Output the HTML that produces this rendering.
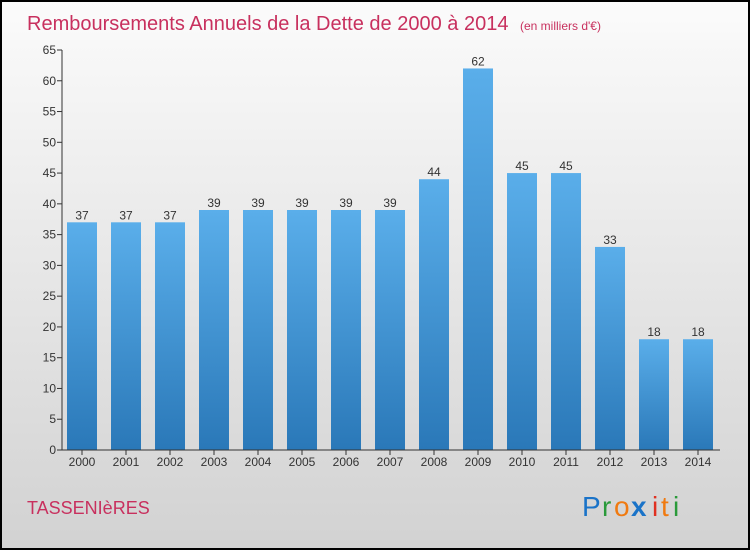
<!DOCTYPE html>
<html><head><meta charset="utf-8"><style>
html,body{margin:0;padding:0;}
svg{display:block;font-family:"Liberation Sans",sans-serif;}
</style></head><body>
<svg id="chart" width="750" height="550" viewBox="0 0 750 550">
<defs>
<linearGradient id="bg" x1="0" y1="0" x2="0" y2="1"><stop offset="0" stop-color="#fbfbfb"/><stop offset="1" stop-color="#d2d2d2"/></linearGradient>
<linearGradient id="bar" x1="0" y1="0" x2="0" y2="1"><stop offset="0" stop-color="#5aaeea"/><stop offset="1" stop-color="#2a78b8"/></linearGradient>
</defs>
<rect x="1" y="1" width="748" height="548" fill="url(#bg)" stroke="#000" stroke-width="2"/>
<text x="27" y="30" font-size="20" fill="#c8305e">Remboursements Annuels de la Dette de 2000 à 2014 <tspan font-size="12" dx="6">(en milliers d'€)</tspan></text>
<g id="yaxis"></g>
<g id="bars"></g>
<line x1="62" y1="450" x2="720" y2="450" stroke="#333"/>
<line x1="62" y1="50" x2="62" y2="450" stroke="#333"/>
<text x="27" y="514" font-size="18" fill="#c8305e">TASSENIèRES</text>
<g font-size="28" font-family="'Liberation Sans',sans-serif">
<text x="582" y="516" fill="#1a73c8">P</text><text x="602" y="516" fill="#2a9a3a">r</text><text x="614" y="516" fill="#f07a10">o</text><text x="631" y="516" fill="#1a73c8" font-weight="bold">x</text><text x="652" y="516" fill="#e03020">i</text><text x="661" y="516" fill="#f07a10">t</text><text x="673" y="516" fill="#2a9a3a">i</text>
</g>
</svg>
<script>
const years=["2000","2001","2002","2003","2004","2005","2006","2007","2008","2009","2010","2011","2012","2013","2014"];
const values=[37,37,37,39,39,39,39,39,44,62,45,45,33,18,18];
const yTicks=[0,5,10,15,20,25,30,35,40,45,50,55,60,65];
const NS="http://www.w3.org/2000/svg";
const y0=450,yMax=65,yTop=50;
function yScale(v){return y0-(v/yMax)*(y0-yTop);}
function xScale(i){return 67+i*44;}
const bw=30;
const ya=document.getElementById('yaxis');
yTicks.forEach(t=>{
  const l=document.createElementNS(NS,'line');
  l.setAttribute('x1',57);l.setAttribute('x2',62);l.setAttribute('y1',yScale(t));l.setAttribute('y2',yScale(t));l.setAttribute('stroke','#333');
  
  
  ya.appendChild(l);
  const tx=document.createElementNS(NS,'text');
  tx.setAttribute('x',56);tx.setAttribute('y',yScale(t)+4);tx.setAttribute('text-anchor','end');tx.setAttribute('font-size','12');tx.setAttribute('fill','#333');
  tx.textContent=t;
  
  
  ya.appendChild(tx);
});
const bg=document.getElementById('bars');
values.forEach((v,i)=>{
  const x=xScale(i);
  const r=document.createElementNS(NS,'rect');
  r.setAttribute('x',x);r.setAttribute('y',yScale(v));r.setAttribute('width',bw);r.setAttribute('height',y0-yScale(v));r.setAttribute('fill','url(#bar)');
  
  
  bg.appendChild(r);
  const t=document.createElementNS(NS,'text');
  t.setAttribute('x',x+bw/2);t.setAttribute('y',yScale(v)-3);t.setAttribute('text-anchor','middle');t.setAttribute('font-size','12');t.setAttribute('fill','#333');
  t.textContent=v;
  
  
  bg.appendChild(t);
  const tk=document.createElementNS(NS,'line');
  tk.setAttribute('x1',x+bw/2);tk.setAttribute('x2',x+bw/2);tk.setAttribute('y1',450);tk.setAttribute('y2',455);tk.setAttribute('stroke','#333');
  
  
  bg.appendChild(tk);
  const yl=document.createElementNS(NS,'text');
  yl.setAttribute('x',x+bw/2);yl.setAttribute('y',466);yl.setAttribute('text-anchor','middle');yl.setAttribute('font-size','12');yl.setAttribute('fill','#333');
  yl.textContent=years[i];
  
  
  bg.appendChild(yl);
});
</script>
</body></html>
